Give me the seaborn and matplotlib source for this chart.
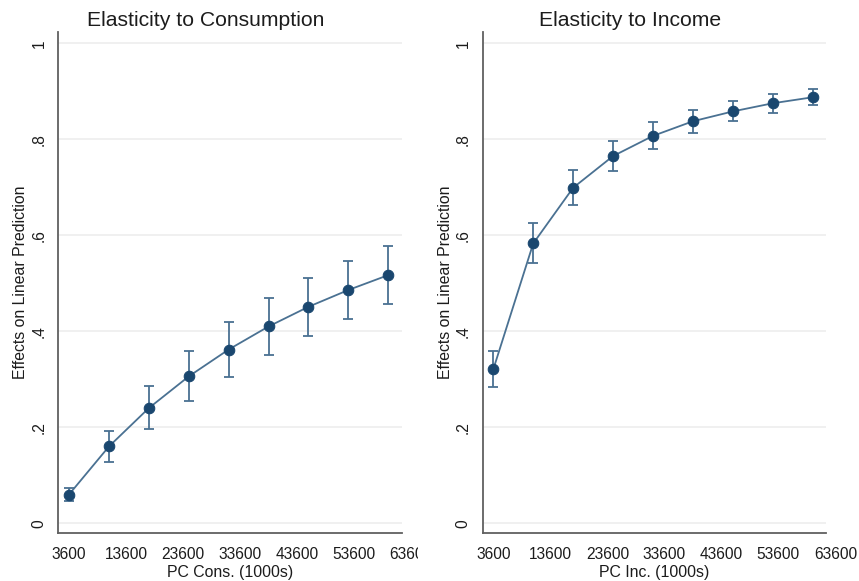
import matplotlib
matplotlib.use("Agg")
import matplotlib.pyplot as plt
from matplotlib.transforms import Bbox, TransformedBbox
import numpy as np
import pandas as pd
import seaborn as sns

# Evaluation points (per-capita level, 1000s)
x_vals = [3600, 10600, 17600, 24600, 31600, 38600, 45600, 52600, 59600]

# Elasticity to consumption: estimate and 95% CI
cons_mean = [0.060, 0.160, 0.240, 0.306, 0.362, 0.410, 0.451, 0.486, 0.517]
cons_lo = [0.047, 0.127, 0.196, 0.255, 0.305, 0.351, 0.391, 0.426, 0.457]
cons_hi = [0.073, 0.193, 0.285, 0.358, 0.419, 0.469, 0.512, 0.546, 0.578]

# Elasticity to income: estimate and 95% CI
inc_mean = [0.321, 0.583, 0.699, 0.765, 0.807, 0.8375, 0.858, 0.875, 0.8875]
inc_lo = [0.283, 0.542, 0.663, 0.734, 0.780, 0.813, 0.8375, 0.855, 0.871]
inc_hi = [0.359, 0.625, 0.735, 0.796, 0.835, 0.861, 0.880, 0.894, 0.905]

x_ticks = [3600, 13600, 23600, 33600, 43600, 53600, 63600]
y_ticks = [0, 0.2, 0.4, 0.6, 0.8, 1.0]
y_ticklabels = ["0", ".2", ".4", ".6", ".8", "1"]

titles = ["Elasticity to Consumption", "Elasticity to Income"]
xlabels = ["PC Cons. (1000s)", "PC Inc. (1000s)"]
ylabel = "Effects on Linear Prediction"

sns.set_style("white")
plt.rcParams["font.family"] = ["Liberation Sans", "DejaVu Sans"]

W, H = 859, 581
fig = plt.figure(figsize=(W / 100, H / 100), dpi=100)
fig.patch.set_facecolor("white")

MARK = "#1a476f"
LINE = "#4a7192"
AXC = "#606060"
GRID = "#f0f0f0"
TXT = "#1c1c1c"

xlim = (1700, 64000)
ylim = (-0.0202, 1.0235)
px_w = 355.1
spine_end = 62000

panels = [
    dict(left=58.2, mean=cons_mean, lo=cons_lo, hi=cons_hi,
         title_x=205.5, ylab_x=21, clip_right=418),
    dict(left=482.5, mean=inc_mean, lo=inc_lo, hi=inc_hi,
         title_x=630, ylab_x=446, clip_right=W),
]

for i, p in enumerate(panels):
    ax = fig.add_axes([p["left"] / W, 48 / H, px_w / W, 501 / H])
    ax.set_facecolor("white")
    ax.set_xlim(*xlim)
    ax.set_ylim(*ylim)

    # horizontal reference lines across the plot region
    ax.hlines(y_ticks, xlim[0], spine_end, colors=GRID, linewidth=1.4, zorder=0)

    df = pd.DataFrame({"x": x_vals, "y": p["mean"]})
    mean = np.array(p["mean"])
    err = np.vstack([mean - np.array(p["lo"]), np.array(p["hi"]) - mean])
    ax.errorbar(x_vals, mean, yerr=err, fmt="none", ecolor=LINE,
                elinewidth=1.3, capsize=3.6, capthick=1.3, zorder=2)
    sns.lineplot(data=df, x="x", y="y", ax=ax, color=LINE, linewidth=1.3,
                 marker="o", markersize=7.6, markerfacecolor=MARK,
                 markeredgecolor=MARK, errorbar=None, zorder=3)

    for s in ["top", "right"]:
        ax.spines[s].set_visible(False)
    for s in ["left", "bottom"]:
        ax.spines[s].set_color(AXC)
        ax.spines[s].set_linewidth(1.3)
    ax.spines["bottom"].set_bounds(xlim[0], spine_end)

    ax.set_xticks(x_ticks)
    ax.set_xticklabels([str(v) for v in x_ticks])
    ax.set_yticks(y_ticks)
    ax.set_yticklabels(y_ticklabels)
    ax.tick_params(axis="both", length=5, width=1.2, color=AXC,
                   labelsize=11.2, labelcolor=TXT)
    ax.tick_params(axis="x", pad=5)
    ax.tick_params(axis="y", pad=3.5, labelrotation=90)
    for lab in ax.get_yticklabels():
        lab.set_va("center")
    ax.set_xlabel("")
    ax.set_ylabel("")

    clip = TransformedBbox(Bbox.from_extents(0, 0, p["clip_right"] / W, 1),
                           fig.transFigure)
    for t in ax.xaxis.get_major_ticks():
        t.label1.set_clip_box(clip)
        t.label1.set_clip_on(True)

    spine_mid = p["left"] + (spine_end - xlim[0]) / (xlim[1] - xlim[0]) * px_w / 2
    fig.text(p["title_x"] / W, 1 - 26 / H, titles[i], ha="center",
             va="baseline", fontsize=15.2, color=TXT)
    fig.text(spine_mid / W, 1 - 572 / H, xlabels[i], ha="center",
             va="center", fontsize=11.4, color=TXT)
    fig.text(p["ylab_x"] / W, 1 - 282.5 / H, ylabel, ha="center",
             va="center", rotation=90, fontsize=11.4, color=TXT)

fig.savefig("out.png", dpi=100, facecolor="white")
